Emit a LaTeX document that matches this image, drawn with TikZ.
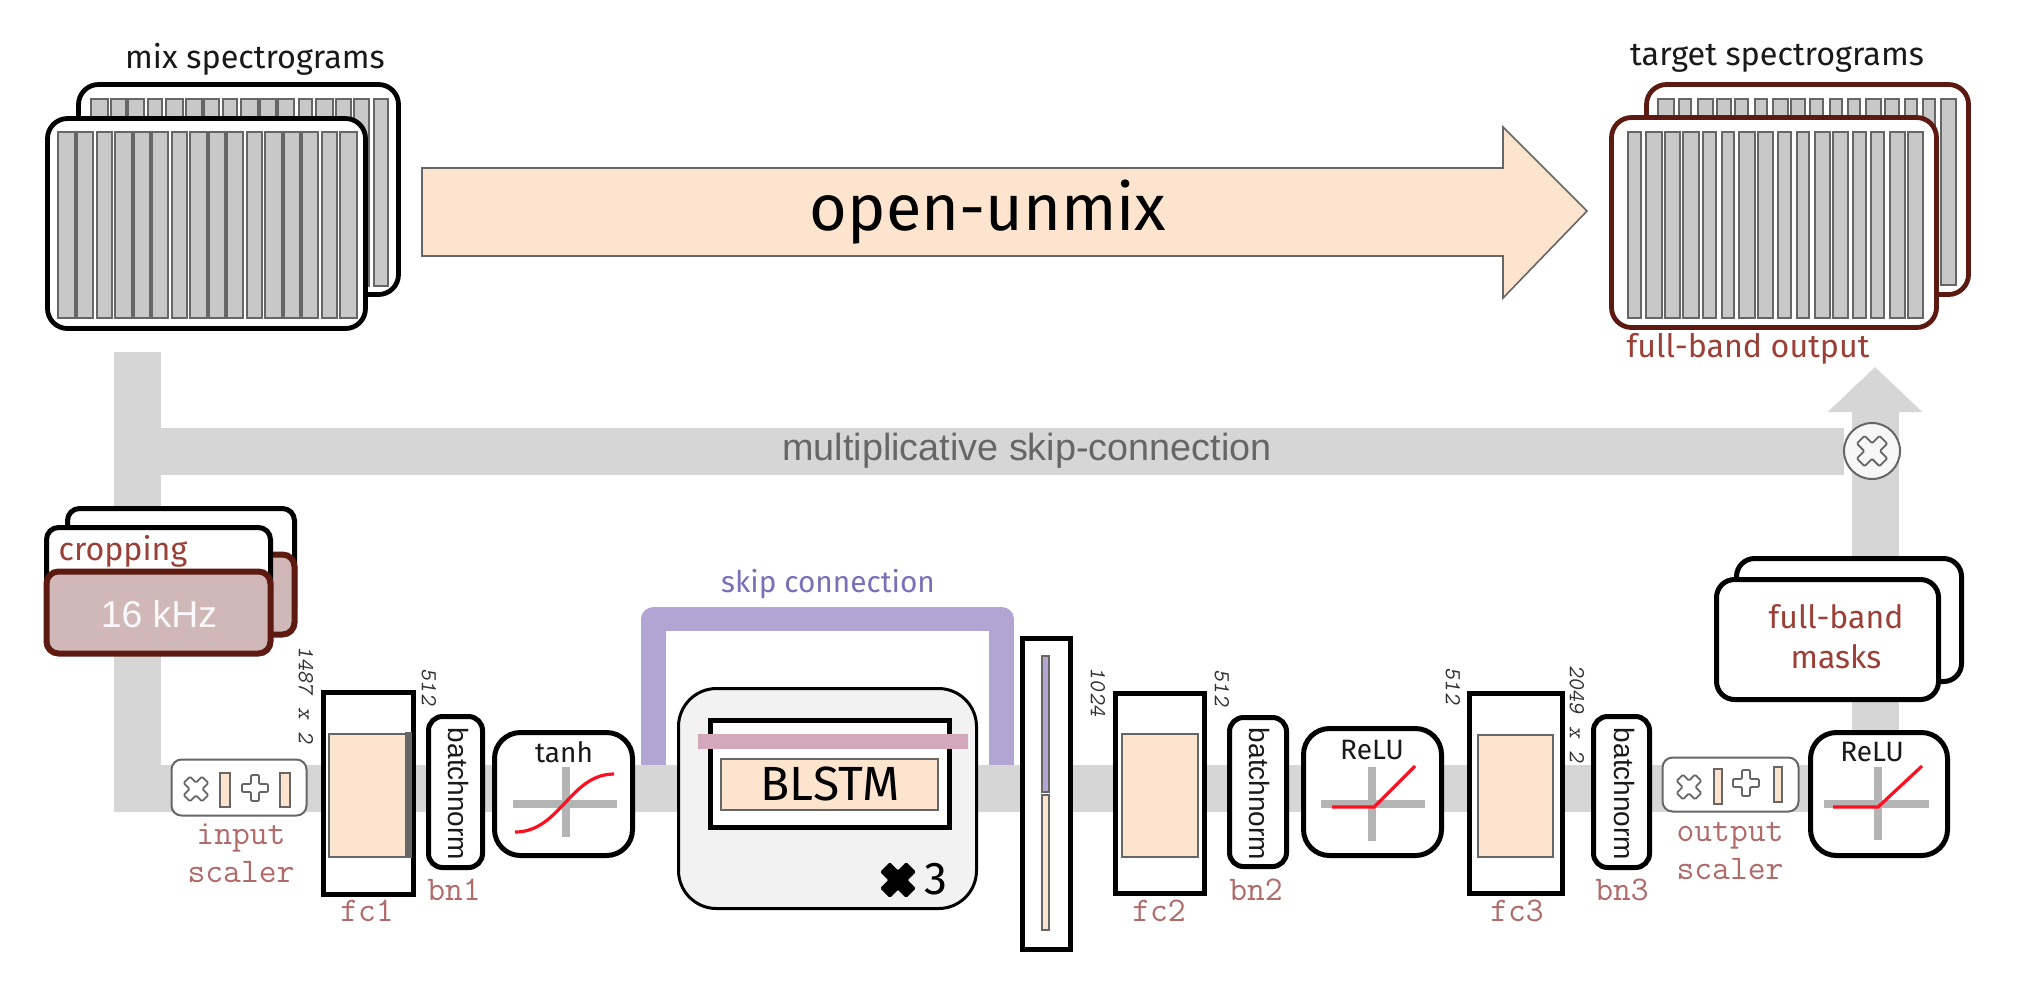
\documentclass[tikz,border=0pt]{standalone}
\usepackage{fontspec}
\setmainfont{Liberation Sans}
\newfontfamily\fira{Fira Sans}
\usetikzlibrary{arrows.meta}
\pgfdeclarelayer{bg}
\pgfsetlayers{bg,main}
\definecolor{orng}{HTML}{FCE4CE}
\definecolor{pipeg}{HTML}{D6D6D6}
\definecolor{strk}{HTML}{666666}
\definecolor{barg}{HTML}{C8C8C8}
\definecolor{dred}{HTML}{5C1A10}
\definecolor{lightb}{HTML}{D0B8B8}
\definecolor{lbl}{HTML}{9B4038}
\definecolor{mlbl}{HTML}{B06A6A}
\definecolor{skipc}{HTML}{B2A5D3}
\definecolor{skipt}{HTML}{7A70B8}
\definecolor{pinkb}{HTML}{D4A8BC}
\definecolor{axisg}{HTML}{B4B4B4}
\definecolor{curve}{HTML}{FF1020}
\newcommand\fsz[2][]{\fontsize{#2}{#2}\selectfont}
\newcommand\bx[6]{\node[#2,minimum width={(#5-#3-3)*0.5pt},minimum height={(#6-#4-3)*0.5pt}] (#1) at ({(#3+#5)/2},{(#4+#6)/2}) {};}
\newcommand\cross[6]{\draw[#6,shift={(#1,#2)},rotate=#3,rounded corners=0.6pt] (-#5,-#4) -- (#5,-#4) -- (#5,-#5) -- (#4,-#5) -- (#4,#5) -- (#5,#5) -- (#5,#4) -- (-#5,#4) -- (-#5,#5) -- (-#4,#5) -- (-#4,-#5) -- (-#5,-#5) -- cycle;}
\tikzset{
  every node/.style={inner sep=0pt,outer sep=0pt},
  spec/.style={draw=black,fill=white,line width=2.4pt,rounded corners=10pt},
  tspec/.style={spec,draw=dred},
  stripe/.style={draw=strk,fill=barg,line width=1.1pt},
  pipe/.style={draw=pipeg,line width=23.5pt},
  block/.style={draw=black,fill=white,line width=2.5pt},
  inner/.style={draw=strk,fill=orng,line width=1pt},
  norm/.style={block,rounded corners=7pt},
  act/.style={block,rounded corners=13pt},
  scaler/.style={draw=strk,fill=white,line width=1pt,rounded corners=5pt},
  glyph/.style={draw=strk,fill=white,line width=0.9pt},
  axisl/.style={draw=axisg,line width=4pt},
  redc/.style={draw=curve,line width=1.6pt},
  sans/.style={font=\fira\fsz{16.2},text=black!90},
  mono/.style={font=\ttfamily\fsz{17.3},text=mlbl,align=center},
  dims/.style={font=\ttfamily\slshape\fsz{11.5},text=black!80,rotate=-90},
  bntxt/.style={font=\fsz{14},text=black!90,rotate=-90},
  acttxt/.style={font=\fira\fsz{14},text=black!90},
}
\begin{document}
\begin{tikzpicture}[x=0.5pt,y=-0.5pt]
\useasboundingbox (0,0) rectangle (2037,993);
\begin{pgfonlayer}{bg}
\fill[white] (0,0) rectangle (2037,993);
\end{pgfonlayer}
% ---- coordinates of the pipes
\coordinate (mixout) at (137,352);
\coordinate (pipeend) at (1875,788);
\coordinate (headtip) at (1875,367);
\coordinate (skipa) at (653.5,765);
\coordinate (skipb) at (653.5,619);
\coordinate (skipc) at (1001.5,619);
\coordinate (skipd) at (1001.5,765);
% ---- mix spectrograms
\bx{mixback}{spec}{77}{83}{400}{296}
\foreach \a/\b in {157/200,215/255,268/310,328/362,382/425,440/482,494/535,553/587,607/650,663/705,718/760,780/812,832/875,890/930,945/985,1005/1040}
  \draw[stripe] ({40+\a/3-1},99) rectangle ({40+\b/3+1},286);
\bx{mixfront}{spec}{46}{117}{367}{330}
\foreach \a/\b in {57/102,113/157,175/212,227/272,284/328,340/382,400/437,452/497,510/552,565/607,625/662,678/722,735/778,790/832,850/887,903/948}
  \draw[stripe] ({40+\a/3-1},132) rectangle ({40+\b/3+1},318);
\node[sans] (mixlbl) at (255,59) {mix spectrograms};
% ---- big arrow
\draw[fill=orng,draw=strk,line width=0.8pt] (422,168) -- (1503,168) -- (1503,127) -- (1587,211) -- (1503,298) -- (1503,256) -- (422,256) -- cycle;
\node[font=\fira\fsz{32.4},text=black] (ou) at (988,212) {open-unmix};
% ---- target spectrograms
\bx{tback}{tspec}{1645}{83}{1970}{296}
\foreach \a/\b in {162/203,225/255,282/320,338/375,392/425,452/482,507/545,562/598,617/652,677/707,732/762,785/825,842/878,902/932,957/987,1012/1050}
  \draw[stripe] ({1605+\a/3-1},99) rectangle ({1605+\b/3+1},285);
\bx{tfront}{tspec}{1610}{116}{1938}{329}
\foreach \a/\b in {72/105,127/168,182/222,238/278,298/330,353/385,405/448,462/500,522/555,578/610,632/672,688/725,748/780,802/835,857/897,912/950}
  \draw[stripe] ({1605+\a/3-1},132) rectangle ({1605+\b/3+1},318);
\node[sans] (tlbl) at (1777,58) {target spectrograms};
\node[font=\fira\fsz{16.1},text=lbl] (fbo) at (1748,349) {full-band output};
% ---- skip-connection text and multiply circle
\node[font=\fsz{18.9},text=black!60] (msk) at (1027,451) {multiplicative skip-connection};
\node[draw=strk,fill=black!3,line width=1pt,circle,minimum size=28pt] (mult) at (1872,451) {};
\cross{1872}{451}{45}{16}{5.5}{glyph,fill=black!3}
% ---- cropping
\bx{cropback}{block,rounded corners=6pt}{66}{507}{296}{620}
\bx{cropbackr}{block,draw=dred,fill=lightb,line width=3pt,rounded corners=6pt}{200}{553}{296}{636}
\bx{cropup}{block,rounded corners=6pt}{45}{526}{272}{600}
\bx{croplow}{block,draw=dred,fill=lightb,line width=3pt,rounded corners=6pt}{45}{570}{272}{655}
\node[font=\fira\fsz{16.1},text=lbl] (croptxt) at (123,551) {cropping};
\node[font=\fsz{18.7},text=white!90!lightb] (khz) at (159,614) {16 kHz};
% ---- input scaler
\bx{inscale}{scaler}{170}{758}{308}{817}
\cross{196}{789}{45}{13}{4.5}{glyph}
\bx{insa}{inner}{218}{771}{231}{808}
\cross{255}{788}{0}{13}{4}{glyph}
\bx{insb}{inner}{278}{771}{291}{808}
\node[mono] (inlbl) at (241,853) {input\\[2pt]scaler};
% ---- fc1
\bx{fc1}{block}{322}{691}{415}{896}
\fill[strk] (405,732) rectangle (412,858);
\bx{fc1i}{inner}{327}{732}{407}{858}
\node[mono] (fc1l) at (367,911) {fc1};
\node[dims] (d1) at (306,695) {1487 x 2};
\node[dims] (d2) at (429,687) {512};
% ---- bn1
\bx{bn1}{norm}{427}{715}{484}{869}
\node[bntxt] (bn1t) at (459,794) {batchnorm};
\node[mono] (bn1l) at (454,890) {bn1};
% ---- tanh
\bx{tanh}{act}{493}{731}{634}{857}
\node[acttxt] (tanht) at (564,752) {tanh};
\draw[axisl] (513,804) -- (617,804);
\draw[axisl] (566,767) -- (566,837);
\draw[redc] (515,832) .. controls (560,832) and (570,774) .. (614,774);
% ---- BLSTM
\bx{lstmo}{block,fill=black!5,line width=1.5pt,rounded corners=19pt}{677}{687}{978}{910}
\bx{lstmi}{block}{709}{719}{951}{829}
\bx{lstmc}{inner}{719}{757}{939}{811}
\node[draw=none,fill=pinkb,minimum width=135pt,minimum height=7.5pt] (pink) at (833,741.5) {};
\node[font=\fira\fsz{24},text=black] (blstm) at (830,784) {BLSTM};
\cross{898}{880}{45}{18}{6.5}{fill=black,draw=black}
\node[font=\fira\fsz{23},text=black] (three) at (936,879) {3};
\node[font=\fira\fsz{14.9},text=skipt] (skipl) at (828,584) {skip connection};
% ---- concat block
\bx{concat}{block}{1021}{637}{1072}{951}
\bx{concatp}{inner,fill=skipc}{1040}{654}{1050}{793}
\bx{concato}{inner}{1040}{793}{1050}{931}
\node[dims] (d3) at (1098,692) {1024};
% ---- fc2
\bx{fc2}{block}{1114}{692}{1206}{895}
\bx{fc2i}{inner}{1120}{732}{1199}{858}
\node[mono] (fc2l) at (1159,911) {fc2};
\node[dims] (d4) at (1222,688) {512};
% ---- bn2
\bx{bn2}{norm}{1228}{716}{1288}{868}
\node[bntxt] (bn2t) at (1259,794) {batchnorm};
\node[mono] (bn2l) at (1256,890) {bn2};
% ---- relu 1
\bx{relua}{act}{1302}{727}{1443}{857}
\node[acttxt] (relut) at (1372,750) {ReLU};
\draw[axisl] (1321,804) -- (1425,804);
\draw[axisl] (1372,767) -- (1372,841);
\draw[redc] (1332,807) -- (1374,807) -- (1415,766);
% ---- fc3
\bx{fc3}{block}{1468}{692}{1564}{895}
\bx{fc3i}{inner}{1476}{733}{1554}{858}
\node[mono] (fc3l) at (1517,911) {fc3};
\node[dims] (d5) at (1453,686) {512};
\node[dims] (d6) at (1577,714) {2049 x 2};
% ---- bn3
\bx{bn3}{norm}{1592}{715}{1651}{869}
\node[bntxt] (bn3t) at (1624,794) {batchnorm};
\node[mono] (bn3l) at (1622,890) {bn3};
% ---- output scaler
\bx{outscale}{scaler}{1661}{756}{1800}{813}
\cross{1689}{787}{45}{13}{4.5}{glyph}
\bx{outa}{inner}{1712}{767}{1723}{805}
\cross{1746}{783}{0}{13}{4}{glyph}
\bx{outb}{inner}{1772}{765}{1783}{803}
\node[mono] (outlbl) at (1730,851) {output\\[2pt]scaler};
% ---- relu 2
\bx{relub}{act}{1809}{731}{1949}{857}
\node[acttxt] (relubt) at (1872,752) {ReLU};
\draw[axisl] (1824,804) -- (1929,804);
\draw[axisl] (1878,767) -- (1878,840);
\draw[redc] (1833,807) -- (1878,807) -- (1922,766);
% ---- masks
\bx{maskback}{block,rounded corners=9pt}{1735}{557}{1963}{683}
\bx{maskfront}{block,rounded corners=9pt}{1715}{578}{1940}{701}
\node[font=\fira\fsz{16},text=lbl,align=center] (masktxt) at (1836,637) {full-band\\[4pt]masks};
% ---- pipes, behind everything
\begin{pgfonlayer}{bg}
  \draw[pipe] (mixout) |- (pipeend);
  \draw[pipe] (mixout |- mult) -- (mult);
  \draw[pipe,-{Triangle[length=22.5pt,width=46pt]}] (pipeend) -- (headtip);
  \draw[draw=skipc,line width=12.25pt,line join=round] (skipa) -- (skipb) -- (skipc) -- (skipd);
\end{pgfonlayer}
\end{tikzpicture}
\end{document}
